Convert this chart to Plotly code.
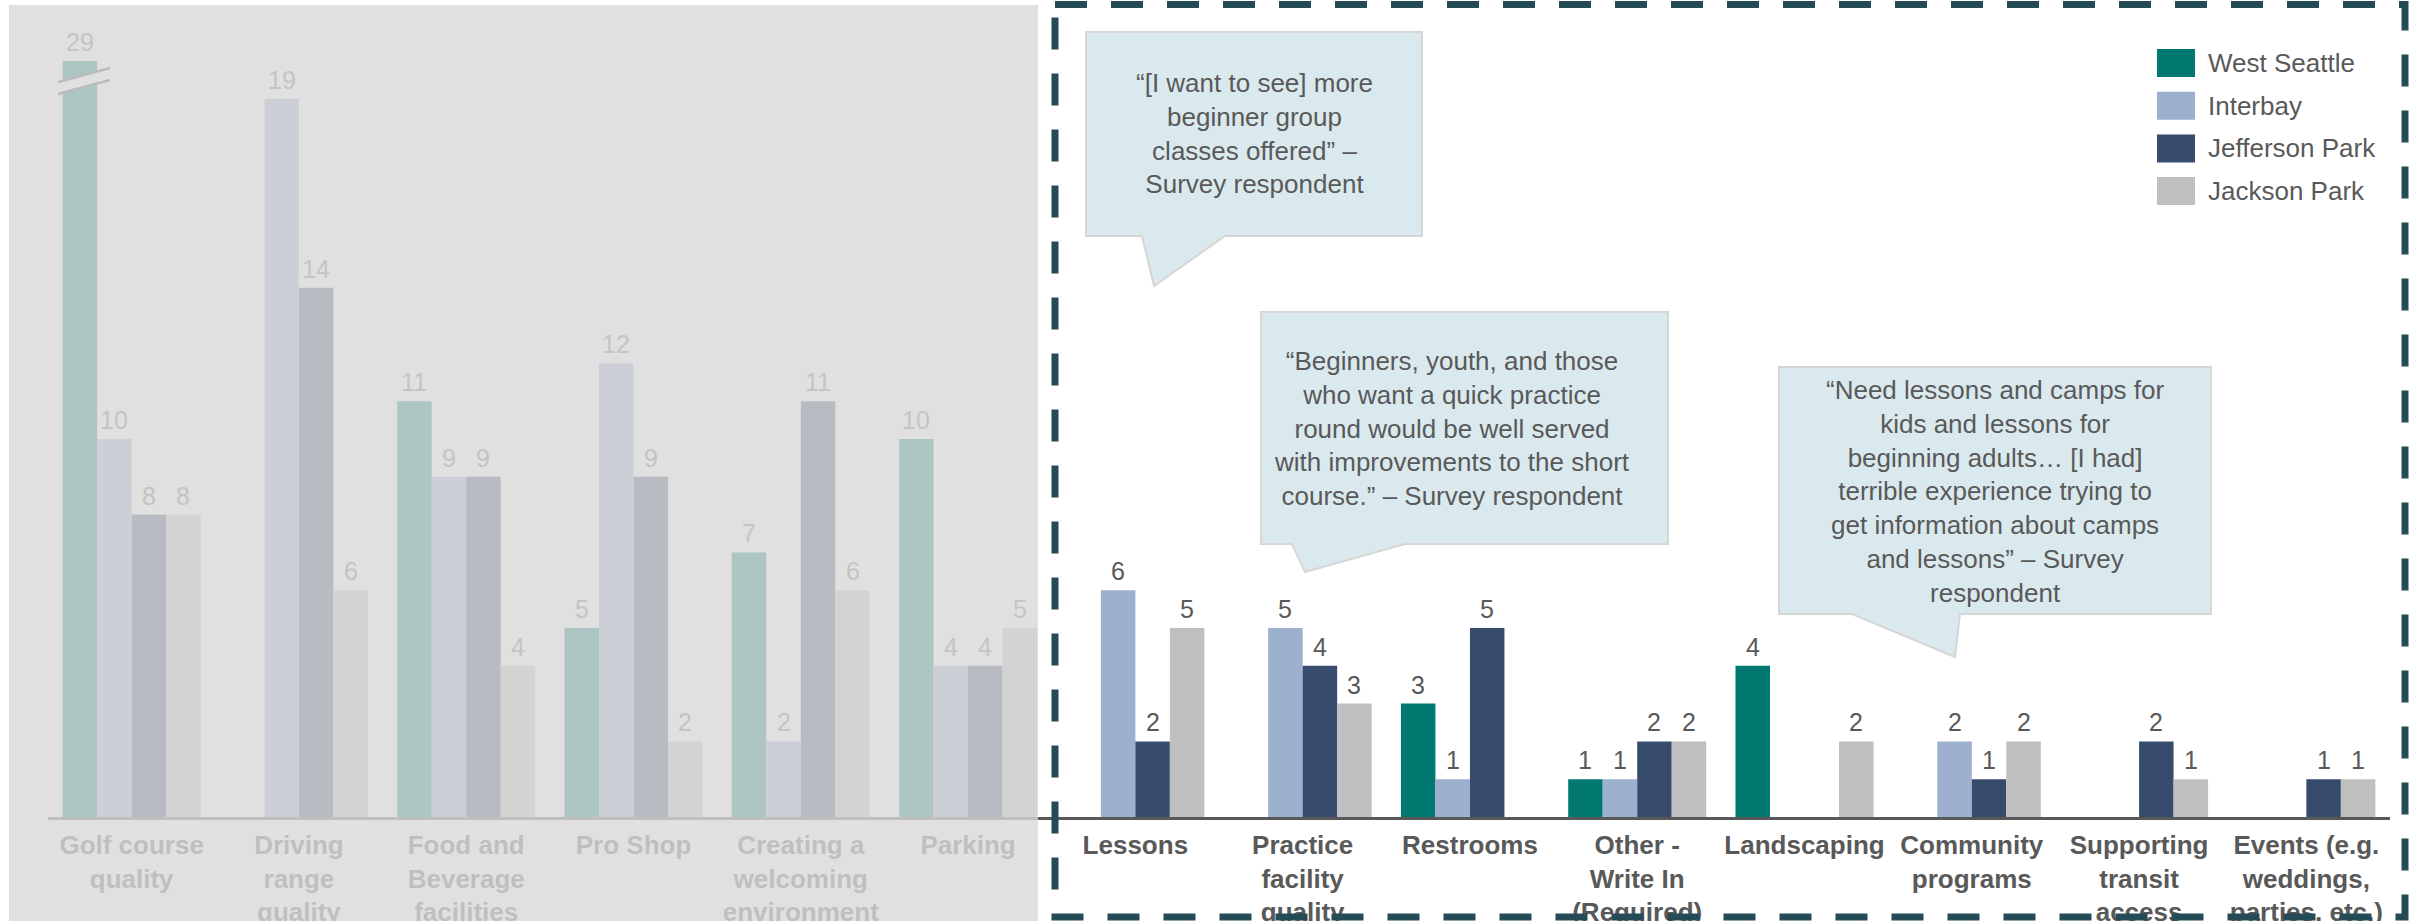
import plotly.graph_objects as go

# ---------------- data ----------------
categories = [
    "Golf course quality", "Driving range quality", "Food and Beverage facilities",
    "Pro Shop", "Creating a welcoming environment", "Parking", "Lessons",
    "Practice facility quality", "Restrooms", "Other - Write In (Required)",
    "Landscaping", "Community programs", "Supporting transit access",
    "Events (e.g. weddings, parties, etc.)",
]
tick_labels = [
    "Golf course<br>quality", "Driving<br>range<br>quality", "Food and<br>Beverage<br>facilities",
    "Pro Shop", "Creating a<br>welcoming<br>environment", "Parking", "Lessons",
    "Practice<br>facility<br>quality", "Restrooms", "Other -<br>Write In<br>(Required)",
    "Landscaping", "Community<br>programs", "Supporting<br>transit<br>access",
    "Events (e.g.<br>weddings,<br>parties, etc.)",
]
series_names = ["West Seattle", "Interbay", "Jefferson Park", "Jackson Park"]
west_seattle = [29, 0, 11, 5, 7, 10, 0, 0, 3, 1, 4, 0, 0, 0]
interbay = [10, 19, 9, 12, 2, 4, 6, 5, 1, 1, 0, 2, 0, 0]
jefferson_park = [8, 14, 9, 9, 11, 4, 2, 4, 5, 2, 0, 1, 2, 1]
jackson_park = [8, 6, 4, 2, 6, 5, 5, 3, 0, 2, 2, 2, 1, 1]
series_values = [west_seattle, interbay, jefferson_park, jackson_park]
n_faded = 6          # first categories greyed out
y_max = 20           # axis cut (the 29 bar is broken)

quotes = [
    "“[I want to see] more<br>beginner group<br>classes offered” –<br>Survey respondent",
    "“Beginners, youth, and those<br>who want a quick practice<br>round would be well served<br>with improvements to the short<br>course.” – Survey respondent",
    "“Need lessons and camps for<br>kids and lessons for<br>beginning adults… [I had]<br>terrible experience trying to<br>get information about camps<br>and lessons” – Survey<br>respondent",
]

# ---------------- style ----------------
colors = ["#017870", "#9DB0CE", "#374C6C", "#BFBFBF"]
FONT = "Liberation Sans, Arial, sans-serif"
TXT = "#595959"
FADED_TXT = "#c4c4c4"
W, H = 2420, 921
L, R, T, B = 48, 30, 61, 104
PW, PH = W - L - R, H - T - B
BARGAP = 0.175


def px(x):
    return (x - L) / PW


def py(y):
    return (H - B - y) / PH


fig = go.Figure()
for name, vals, col in zip(series_names, series_values, colors):
    fig.add_trace(go.Bar(x=categories, y=vals, name=name, marker=dict(color=col, line=dict(width=0)),
                         showlegend=False, hoverinfo="skip"))

shapes = []
annotations = []

# value labels
cat_px = PW / len(categories)
bar_px = cat_px * (1 - BARGAP) / len(series_names)
for j, vals in enumerate(series_values):
    for i, v in enumerate(vals):
        if v == 0:
            continue
        annotations.append(dict(
            x=categories[i], y=min(v, y_max), xref="x", yref="y", text=str(v), showarrow=False,
            xshift=(j - (len(series_names) - 1) / 2) * bar_px, yshift=19, yanchor="middle",
            font=dict(family=FONT, size=25, color=FADED_TXT if i < n_faded else TXT)))

# break marks on the clipped bar: background band + two slanted lines
band = [(58, 83), (110, 69), (110, 79), (58, 93)]
shapes.append(dict(type="path", xref="paper", yref="paper",
                   path="M " + " L ".join(f"{px(x):.5f},{py(y):.5f}" for x, y in band) + " Z",
                   fillcolor="white", line=dict(width=0), layer="above"))
for (x0, y0, x1, y1) in [(58, 82, 110, 68), (58, 94, 110, 80)]:
    shapes.append(dict(type="line", xref="paper", yref="paper", x0=px(x0), y0=py(y0), x1=px(x1), y1=py(y1),
                       line=dict(color="#4a4a4a", width=2.5), layer="above"))

# grey overlay on the left part
shapes.append(dict(type="rect", xref="paper", yref="paper", x0=px(9), x1=px(1038), y0=py(5), y1=py(925),
                   fillcolor="rgba(216,216,216,0.8)", line=dict(width=0), layer="above"))

# dashed highlight frame
shapes.append(dict(type="rect", xref="paper", yref="paper", x0=px(1055), x1=px(2405), y0=py(4.5), y1=py(917),
                   line=dict(color="#244B56", width=7, dash="32px,24px"), fillcolor="rgba(0,0,0,0)", layer="above"))

# callouts: box (l, t, r, b), tail (left, right on bottom edge), tip, text centre
callouts = [
    ((1086, 32, 1422, 236), (1142, 1225), (1154, 286), (1254, 134)),
    ((1261, 312, 1668, 544), (1292, 1405), (1305, 572), (1452, 428)),
    ((1779, 367, 2211, 614), (1852, 1960), (1955, 657), (1995, 491)),
]
for q, (box, tail, tip, tc) in zip(quotes, callouts):
    l, t, r, b = box
    pts = [(l, t), (r, t), (r, b), (tail[1], b), tip, (tail[0], b), (l, b)]
    path = "M " + " L ".join(f"{px(x):.5f},{py(y):.5f}" for x, y in pts) + " Z"
    shapes.append(dict(type="path", xref="paper", yref="paper", path=path, fillcolor="#DAE9EE",
                       line=dict(color="#D6D6D6", width=2), layer="above"))
    annotations.append(dict(x=px(tc[0]), y=py(tc[1]), xref="paper", yref="paper", text=q, showarrow=False,
                            xanchor="center", yanchor="middle", align="center",
                            font=dict(family=FONT, size=26, color=TXT)))

# manual legend
for k, (name, col) in enumerate(zip(series_names, colors)):
    yc = 63 + k * 42.7
    shapes.append(dict(type="rect", xref="paper", yref="paper", x0=px(2157), x1=px(2195),
                       y0=py(yc - 14), y1=py(yc + 14), fillcolor=col, line=dict(width=0), layer="above"))
    annotations.append(dict(x=px(2206), y=py(yc), xref="paper", yref="paper", text=name, showarrow=False,
                            xanchor="left", yanchor="middle",
                            font=dict(family=FONT, size=26, color=TXT)))

fig.update_layout(
    template="none",
    width=W, height=H,
    margin=dict(l=L, r=R, t=T, b=B, pad=0, autoexpand=False),
    paper_bgcolor="white", plot_bgcolor="white",
    barmode="group", bargap=BARGAP, bargroupgap=0,
    shapes=shapes, annotations=annotations,
    showlegend=False,
    xaxis=dict(tickmode="array", tickvals=categories, ticktext=tick_labels, automargin=False,
               showline=True, linecolor="#595959", linewidth=2.5, ticks="", showgrid=False,
               tickfont=dict(family=FONT, size=26, color=TXT, weight="bold"),
               ticklabelstandoff=3, fixedrange=True),
    yaxis=dict(range=[0, y_max], visible=False, showgrid=False, zeroline=False,
               automargin=False, fixedrange=True),
)

fig.write_html("out.html", config={"displayModeBar": False, "staticPlot": True},
               post_script="document.body.style.margin='0';document.body.style.overflow='hidden';")
